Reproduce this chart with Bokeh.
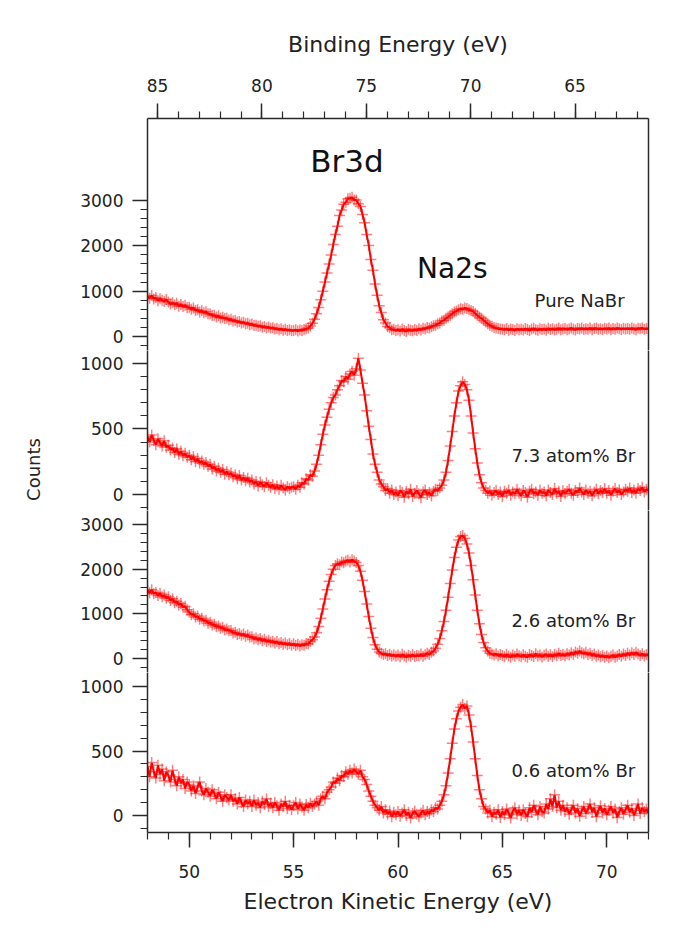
import numpy as np
from bokeh.plotting import figure
from bokeh.models import Range1d, LinearAxis, FixedTicker, SingleIntervalTicker, Label
from bokeh.layouts import column, row
from bokeh.embed import file_html
from bokeh.resources import INLINE

# ---------------- data ----------------
# electron kinetic energy grid (eV), 0.1 eV steps from 48 to 72
ke = np.round(np.arange(48.0, 72.0001, 0.1), 1)
# binding energy = BE_OFFSET - kinetic energy
BE_OFFSET = 133.48

pure_nabr = [
    880, 845, 905, 830, 860, 790, 835, 800, 770, 815,
    760, 715, 745, 700, 735, 670, 705, 660, 690, 640,
    645, 600, 630, 575, 590, 540, 570, 525, 545, 500,
    495, 465, 470, 430, 455, 410, 425, 395, 405, 365,
    380, 340, 355, 320, 330, 300, 315, 280, 295, 260,
    275, 240, 250, 225, 235, 205, 220, 190, 210, 180,
    195, 165, 175, 150, 170, 140, 160, 135, 150, 125,
    130, 150, 120, 145, 135, 155, 170, 185, 230, 290,
    380, 500, 640, 810, 1000, 1200, 1400, 1600, 1800, 2030,
    2250, 2430, 2670, 2790, 2920, 2960, 3040, 3050, 3070, 3010,
    3010, 2930, 2870, 2690, 2510, 2250, 2010, 1700, 1460, 1160,
    910, 680, 530, 370, 300, 220, 195, 150, 160, 130,
    150, 120, 165, 135, 110, 160, 140, 125, 155, 130,
    170, 145, 180, 165, 200, 190, 215, 235, 250, 280,
    300, 340, 360, 400, 430, 470, 500, 540, 560, 590,
    610, 600, 630, 615, 590, 575, 550, 510, 470, 430,
    400, 360, 320, 280, 250, 225, 200, 185, 175, 165,
    160, 150, 175, 140, 165, 155, 130, 170, 150, 160,
    145, 175, 155, 130, 165, 180, 150, 140, 170, 155,
    165, 140, 180, 155, 170, 145, 160, 185, 150, 165,
    175, 150, 165, 190, 160, 145, 175, 165, 185, 155,
    170, 160, 190, 150, 175, 185, 160, 170, 155, 180,
    165, 185, 150, 175, 160, 190, 170, 155, 180, 165,
    175, 160, 185, 165, 150, 180, 170, 190, 160, 175,
    165,
]

br_7_3 = [
    440, 400, 455, 415, 380, 425, 395, 370, 410, 360,
    375, 340, 355, 320, 350, 305, 330, 295, 315, 285,
    300, 265, 290, 250, 275, 240, 255, 230, 245, 215,
    230, 195, 215, 180, 200, 170, 190, 155, 175, 150,
    165, 135, 150, 120, 145, 110, 130, 105, 125, 95,
    110, 80, 100, 65, 95, 75, 60, 90, 70, 55,
    75, 45, 65, 40, 70, 50, 35, 60, 45, 55,
    60, 40, 70, 55, 90, 80, 120, 110, 150, 140,
    180, 230, 300, 380, 460, 530, 590, 650, 700, 740,
    760, 800, 830, 870, 860, 900, 880, 920, 940, 910,
    960, 1040, 950, 850, 760, 640, 520, 420, 310, 230,
    170, 110, 80, 60, 30, 45, 10, 35, 0, 20,
    -10, 30, 15, -20, 25, 5, 40, -15, 10, 30,
    5, -25, 20, 35, 0, 15, -10, 25, 40, 30,
    50, 70, 110, 170, 260, 370, 480, 600, 700, 790,
    830, 860, 840, 800, 720, 600, 470, 350, 240, 150,
    90, 50, 30, 10, 25, -5, 15, 30, 0, 20,
    -15, 25, 10, 35, -5, 20, 5, 40, 10, -10,
    30, 15, -20, 25, 40, 5, 20, -5, 35, 10,
    20, -10, 35, 15, 0, 45, 10, 25, -15, 30,
    5, 25, 40, 10, -5, 30, 15, 50, 20, 0,
    35, 10, 25, -10, 20, 40, 5, 30, 15, 45,
    10, 30, -5, 25, 45, 15, 35, 0, 20, 40,
    25, 50, 15, 35, 10, 45, 30, 55, 20, 40,
    35,
]

br_2_6 = [
    1530, 1470, 1540, 1450, 1480, 1410, 1460, 1380, 1420, 1350,
    1380, 1300, 1340, 1250, 1280, 1200, 1230, 1150, 1170, 1090,
    1040, 980, 1000, 930, 950, 880, 900, 840, 860, 790,
    810, 750, 770, 710, 730, 680, 700, 640, 660, 620,
    630, 570, 590, 540, 560, 520, 550, 500, 530, 480,
    490, 440, 460, 420, 450, 400, 430, 380, 410, 370,
    390, 350, 380, 330, 360, 320, 350, 310, 340, 300,
    330, 290, 320, 280, 310, 300, 340, 330, 380, 420,
    480, 580, 720, 900, 1110, 1330, 1540, 1730, 1880, 2000,
    2080, 2120, 2100, 2160, 2140, 2180, 2200, 2160, 2210, 2180,
    2150, 2080, 1950, 1750, 1500, 1220, 940, 680, 470, 310,
    210, 150, 120, 90, 110, 70, 95, 60, 85, 50,
    80, 40, 95, 60, 30, 75, 50, 90, 45, 70,
    60, 100, 55, 85, 120, 90, 140, 170, 230, 320,
    450, 620, 830, 1080, 1370, 1680, 1980, 2260, 2490, 2650,
    2730, 2750, 2690, 2560, 2360, 2080, 1760, 1420, 1080, 780,
    540, 360, 240, 170, 120, 100, 80, 110, 60, 90,
    70, 40, 95, 60, 30, 80, 50, 100, 65, 40,
    85, 55, 30, 90, 70, 45, 110, 60, 80, 35,
    75, 100, 50, 85, 40, 95, 65, 120, 70, 90,
    60, 110, 80, 130, 90, 150, 120, 170, 130, 110,
    140, 90, 120, 70, 100, 50, 80, 40, 70, 30,
    60, 20, 50, 80, 30, 60, 90, 50, 100, 70,
    120, 80, 130, 90, 140, 100, 70, 110, 60, 90,
    80,
]

br_0_6 = [
    380, 300, 410, 340, 290, 390, 320, 360, 270, 340,
    310, 260, 350, 280, 230, 300, 250, 280, 210, 260,
    240, 190, 230, 170, 220, 260, 190, 160, 210, 180,
    150, 200, 170, 130, 180, 150, 110, 160, 140, 120,
    160, 110, 130, 90, 140, 100, 70, 120, 90, 110,
    70, 120, 80, 100, 60, 110, 85, 130, 70, 95,
    60, 100, 75, 40, 90, 70, 110, 55, 80, 45,
    75, 100, 50, 90, 65, 40, 85, 60, 95, 70,
    90, 110, 80, 130, 150, 130, 180, 200, 220, 260,
    250, 290, 270, 310, 300, 340, 320, 350, 330, 360,
    340, 320, 350, 300, 280, 240, 190, 150, 110, 80,
    60, 40, 70, 20, 45, 10, 35, -10, 25, 5,
    30, -5, 20, 45, 0, 25, -20, 15, 35, 10,
    -10, 20, 40, 5, 30, 15, 45, 30, 60, 50,
    80, 110, 160, 230, 330, 440, 560, 670, 750, 810,
    840, 860, 830, 850, 780, 690, 570, 440, 310, 200,
    130, 70, 50, 20, 40, -10, 25, 10, 45, -15,
    30, 5, 50, 20, -20, 35, 60, 10, 40, 0,
    45, 15, -10, 60, 25, 80, 40, 5, 70, 30,
    20, 90, 50, 130, 70, 160, 60, 110, 40, 80,
    30, 60, 10, 45, 80, 20, 55, -5, 35, 70,
    15, 50, 90, 25, 60, -10, 40, 75, 20, 55,
    5, 40, 70, 20, 50, -15, 30, 60, 10, 45,
    80, 25, 55, 0, 40, 90, 15, 60, 30, 50,
    20,
]

sample_labels = ["Pure NaBr", "7.3 atom% Br", "2.6 atom% Br", "0.6 atom% Br"]
series = [pure_nabr, br_7_3, br_2_6, br_0_6]
y_ranges = [(-309, 4810), (-122, 1099), (-311, 3311), (-132, 1109)]
y_major = [[0, 1000, 2000, 3000], [0, 500, 1000], [0, 1000, 2000, 3000], [0, 500, 1000]]
y_minor = [
    [v for v in range(-200, 3000, 200) if v % 1000],
    [v for v in range(-100, 1000, 100) if v % 500],
    [v for v in range(-200, 3000, 200) if v % 1000],
    [v for v in range(-100, 1000, 100) if v % 500],
]
label_pos = [(68.7, 795), (68.4, 300), (68.4, 845), (68.4, 349)]

# ---------------- styling ----------------
FONT = "DejaVu Sans"
AX = "#2a2a2a"
TXT = "#222222"
RED = "#ff0000"

def style_axis(ax):
    ax.axis_line_color = AX
    ax.axis_line_width = 1.5
    ax.major_tick_line_color = AX
    ax.major_tick_line_width = 1.5
    ax.minor_tick_line_color = AX
    ax.minor_tick_line_width = 1.2
    ax.major_tick_in = 0
    ax.major_tick_out = 15
    ax.minor_tick_in = 0
    ax.minor_tick_out = 7
    ax.major_label_text_font = FONT
    ax.major_label_text_font_size = "17px"
    ax.major_label_text_color = TXT
    ax.axis_label_text_font = FONT
    ax.axis_label_text_font_size = "22px"
    ax.axis_label_text_font_style = "normal"
    ax.axis_label_text_color = TXT

LABEL_W = 56
xr = Range1d(48, 72)
heights = [350, 160, 162, 248]
tops = [118, 0, 0, 0]
bottoms = [0, 0, 0, 88]

figs = []
for i in range(4):
    p = figure(width=668 - LABEL_W, height=heights[i], x_range=xr,
               y_range=Range1d(*y_ranges[i]),
               output_backend="svg", toolbar_location=None,
               x_axis_location="below" if i == 3 else None,
               min_border_left=147 - LABEL_W, min_border_right=20,
               min_border_top=tops[i], min_border_bottom=bottoms[i],
               outline_line_color=None,
               background_fill_color="white", border_fill_color="white")
    p.grid.grid_line_color = None
    p.yaxis.ticker = FixedTicker(ticks=y_major[i], minor_ticks=y_minor[i])
    for ax in p.yaxis:
        style_axis(ax)
    p.yaxis.major_label_standoff = 9

    ra = LinearAxis(ticker=FixedTicker(ticks=[]), major_label_text_font_size="0px")
    style_axis(ra)
    ra.major_tick_out = 0
    ra.minor_tick_out = 0
    p.add_layout(ra, "right")

    p.line(ke, series[i], line_color=RED, line_width=2)
    p.scatter(ke, series[i], marker="cross", size=11, line_color=RED,
              line_alpha=0.5, line_width=1.5)

    lx, ly = label_pos[i]
    p.add_layout(Label(x=lx, y=ly, text=sample_labels[i], text_align="center",
                       text_baseline="middle", text_font=FONT,
                       text_font_size="18px", text_color=TXT))
    figs.append(p)

# top axis: binding energy
p1 = figs[0]
p1.extra_x_ranges = {"be": Range1d(BE_OFFSET - 48, BE_OFFSET - 72)}
top_ax = LinearAxis(x_range_name="be", axis_label="Binding Energy (eV)",
                    ticker=SingleIntervalTicker(interval=5, num_minor_ticks=5))
style_axis(top_ax)
top_ax.major_label_standoff = 12
top_ax.axis_label_standoff = 19
p1.add_layout(top_ax, "above")
p1.add_layout(Label(x=57.55, y=3880, text="Br3d", text_align="center",
                    text_baseline="middle", text_font=FONT,
                    text_font_size="31px", text_color="#111111"))
p1.add_layout(Label(x=62.6, y=1500, text="Na2s", text_align="center",
                    text_baseline="middle", text_font=FONT,
                    text_font_size="28px", text_color="#111111"))

# bottom axis: kinetic energy
p4 = figs[3]
p4.xaxis.ticker = SingleIntervalTicker(interval=5, num_minor_ticks=5)
p4.xaxis.axis_label = "Electron Kinetic Energy (eV)"
for ax in p4.xaxis:
    style_axis(ax)
p4.xaxis.major_label_standoff = 17
p4.xaxis.axis_label_standoff = 8

# y title in a narrow strip on the left
total_h = sum(heights)
yfig = figure(width=LABEL_W, height=total_h, x_range=Range1d(0, 1),
              y_range=Range1d(0, 1), output_backend="svg",
              toolbar_location=None, x_axis_location=None, y_axis_location=None,
              min_border=0, outline_line_color=None,
              background_fill_color="white", border_fill_color="white")
yfig.grid.grid_line_color = None
yfig.add_layout(Label(x=33, y=total_h - 469, x_units="screen", y_units="screen",
                      text="Counts", angle=1.5708, text_align="center",
                      text_baseline="middle", text_font=FONT,
                      text_font_size="18px", text_color=TXT))

layout = row(yfig, column(*figs))
open("out.html", "w").write(file_html(layout, INLINE))
